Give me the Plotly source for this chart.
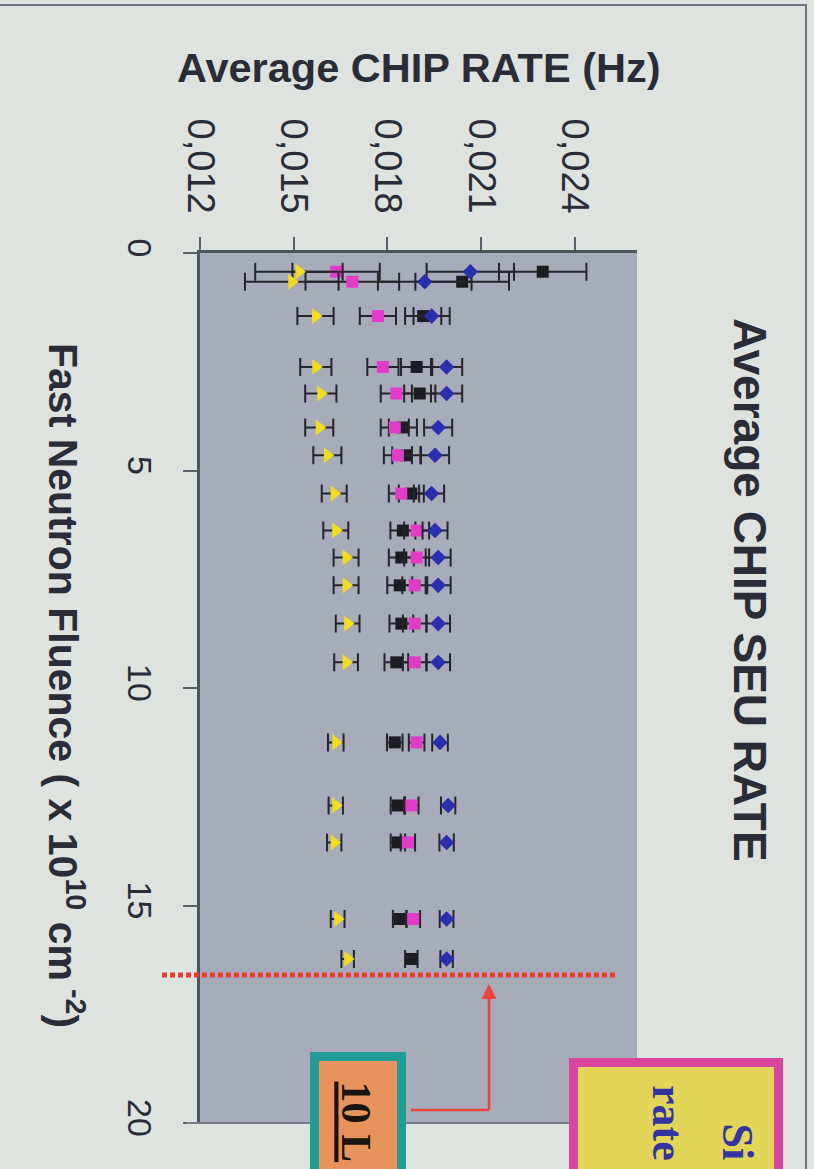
import plotly.graph_objects as go

# ---------------- data ----------------
fluence = [0.43, 0.66, 1.45, 2.62, 3.23, 4.01, 4.65, 5.53, 6.38, 7.00, 7.64,
           8.52, 9.41, 11.25, 12.70, 13.55, 15.31, 16.23]

rate_black = [0.02298, 0.02040, 0.01915, 0.01894, 0.01904, 0.01850, 0.01861,
              0.01877, 0.01850, 0.01845, 0.01840, 0.01845, 0.01829, 0.01824,
              0.01834, 0.01834, 0.01840, 0.01877]
rate_blue = [0.02066, 0.01920, 0.01942, 0.01990, 0.01990, 0.01963, 0.01953,
             0.01942, 0.01953, 0.01963, 0.01963, 0.01963, 0.01963, 0.01969,
             0.01995, 0.01990, 0.01990, 0.01990]
rate_magenta = [0.01636, 0.01688, 0.01770, 0.01786, 0.01829, 0.01824, 0.01834,
                0.01845, 0.01894, 0.01894, 0.01888, 0.01888, 0.01888, 0.01894,
                0.01877, 0.01866, 0.01883, None]
rate_yellow = [0.01517, 0.01494, 0.01570, 0.01571, 0.01587, 0.01582, 0.01608,
               0.01630, 0.01635, 0.01668, 0.01668, 0.01673, 0.01668, 0.01635,
               0.01635, 0.01630, 0.01641, 0.01673]

err_common = [0.00140, 0.00150, 0.00058, 0.00050, 0.00050, 0.00045, 0.00045,
              0.00040, 0.00040, 0.00040, 0.00040, 0.00038, 0.00038, 0.00025,
              0.00023, 0.00023, 0.00022, 0.00020]

rate_ticks = [0.012, 0.015, 0.018, 0.021, 0.024]
rate_ticktext = ["0,012", "0,015", "0,018", "0,021", "0,024"]
fluence_ticks = [0, 5, 10, 15, 20]
limit_fluence = 16.6

# ---------------- figure ----------------
W, H = 814, 1169
L, R, T, B = 200, 177, 253, 46
PW, PH = W - L - R, H - T - B


def px(x):
    return (x - L) / PW


def py(y):
    return (H - B - y) / PH


TXT = "#2a2c38"
BG = "#dfe3df"
FONT = "Liberation Sans, Arial, sans-serif"
SERIF = "Liberation Serif, Times New Roman, serif"

fig = go.Figure()

series = [
    ("black", rate_black, "square", "#1c1c22", 12),
    ("magenta", rate_magenta, "square", "#e03cc8", 12),
    ("blue", rate_blue, "diamond", "#2a2fb0", 12),
    ("yellow", rate_yellow, "triangle-right", "#f2dc1e", 14),
]
for name, vals, sym, col, sz in series:
    fig.add_trace(go.Scatter(
        x=vals, y=fluence, mode="markers", name=name,
        marker=dict(symbol=sym, color=col, size=sz, line=dict(width=0)),
        error_x=dict(type="data", array=err_common, color="#24252c",
                     thickness=2, width=9),
        showlegend=False,
    ))

shapes = []
# red dotted limit line
shapes.append(dict(type="line", xref="paper", yref="y",
                   x0=px(162), x1=px(618), y0=limit_fluence, y1=limit_fluence,
                   line=dict(color="#e8402e", width=5, dash="5px,3px")))
# arrow connector (vertical + horizontal)
shapes.append(dict(type="line", xref="paper", yref="paper",
                   x0=px(489), x1=px(489), y0=py(1110), y1=py(992),
                   line=dict(color="#e8463c", width=2.5)))
shapes.append(dict(type="line", xref="paper", yref="paper",
                   x0=px(411), x1=px(489), y0=py(1110), y1=py(1110),
                   line=dict(color="#e8463c", width=2.5)))
# bottom edge of plot
shapes.append(dict(type="line", xref="paper", yref="paper",
                   x0=px(186), x1=px(637), y0=0, y1=0,
                   line=dict(color="#7b7f8c", width=2)))
# teal / orange box
shapes.append(dict(type="rect", xref="paper", yref="paper",
                   x0=px(310), x1=px(406), y0=py(1052), y1=py(1200),
                   fillcolor="#1f9c96", line=dict(width=0)))
shapes.append(dict(type="rect", xref="paper", yref="paper",
                   x0=px(319), x1=px(397), y0=py(1061), y1=py(1200),
                   fillcolor="#e9935c", line=dict(width=0)))
# magenta / yellow box
shapes.append(dict(type="rect", xref="paper", yref="paper",
                   x0=px(569), x1=px(783), y0=py(1058), y1=py(1200),
                   fillcolor="#d8449e", line=dict(width=0)))
shapes.append(dict(type="rect", xref="paper", yref="paper",
                   x0=px(578), x1=px(774), y0=py(1067), y1=py(1200),
                   fillcolor="#e3d558", line=dict(width=0)))
# slide frame
shapes.append(dict(type="line", xref="paper", yref="paper",
                   x0=px(0), x1=px(807), y0=py(5), y1=py(5),
                   line=dict(color="#6e7482", width=2)))
shapes.append(dict(type="line", xref="paper", yref="paper",
                   x0=px(806), x1=px(806), y0=py(5), y1=py(1169),
                   line=dict(color="#6e7482", width=2)))

annotations = [
    dict(text="<b>Average CHIP RATE (Hz)</b>", xref="paper", yref="paper",
         x=0.5, y=py(68), showarrow=False, xanchor="center", yanchor="middle",
         font=dict(family=FONT, size=41.5, color=TXT)),
    dict(text="<b>Fast Neutron Fluence ( x 10<sup>10</sup> cm<sup> -2</sup>)</b>",
         xref="paper", yref="paper", x=px(66), y=py(685), textangle=90,
         showarrow=False, xanchor="center", yanchor="middle",
         font=dict(family=FONT, size=41, color=TXT)),
    dict(text="<b>Average CHIP SEU RATE</b>", xref="paper", yref="paper",
         x=px(750), y=py(590), textangle=90, showarrow=False,
         xanchor="center", yanchor="middle",
         font=dict(family=FONT, size=46, color=TXT)),
    # arrow head
    dict(text="", xref="paper", yref="paper", x=px(489), y=py(984),
         ax=0, ay=20, showarrow=True, arrowhead=2, arrowsize=1.2,
         arrowwidth=2.5, arrowcolor="#e8463c"),
    dict(text="<b><u>10 L</u></b>", xref="paper", yref="paper",
         x=px(356), y=py(1080), textangle=90, showarrow=False,
         xanchor="center", yanchor="top", borderpad=0,
         font=dict(family=SERIF, size=42, color="#1a1410")),
    dict(text="<b>rate</b>", xref="paper", yref="paper",
         x=px(668), y=py(1084), textangle=90, showarrow=False,
         xanchor="center", yanchor="top", borderpad=0,
         font=dict(family=SERIF, size=44, color="#3434a0")),
    dict(text="<b>Si</b>", xref="paper", yref="paper",
         x=px(737), y=py(1122), textangle=90, showarrow=False,
         xanchor="center", yanchor="top", borderpad=0,
         font=dict(family=SERIF, size=44, color="#3434a0")),
]

fig.update_layout(
    width=W, height=H,
    margin=dict(l=L, r=R, t=T, b=B, pad=0),
    paper_bgcolor=BG,
    plot_bgcolor="#a8abb9",
    shapes=shapes,
    annotations=annotations,
    xaxis=dict(
        range=[0.012, 0.026], side="top",
        tickvals=rate_ticks, ticktext=rate_ticktext, tickangle=90,
        tickfont=dict(family=FONT, size=38, color=TXT),
        ticks="outside", ticklen=13, tickwidth=2, tickcolor="#5a5e6a",
        ticklabelstandoff=10,
        showline=True, linecolor="#50545f", linewidth=3,
        showgrid=False, zeroline=False,
    ),
    yaxis=dict(
        range=[20, 0],
        tickvals=fluence_ticks, tickangle=90,
        tickfont=dict(family=FONT, size=34, color=TXT),
        ticks="outside", ticklen=14, tickwidth=2, tickcolor="#5a5e6a",
        ticklabelstandoff=14,
        showline=True, linecolor="#50545f", linewidth=3,
        showgrid=False, zeroline=False,
    ),
)

fig.write_html(
    "out.html",
    config={"displayModeBar": False},
    post_script="document.body.style.margin='0';"
                "document.body.style.background='" + BG + "';",
)
